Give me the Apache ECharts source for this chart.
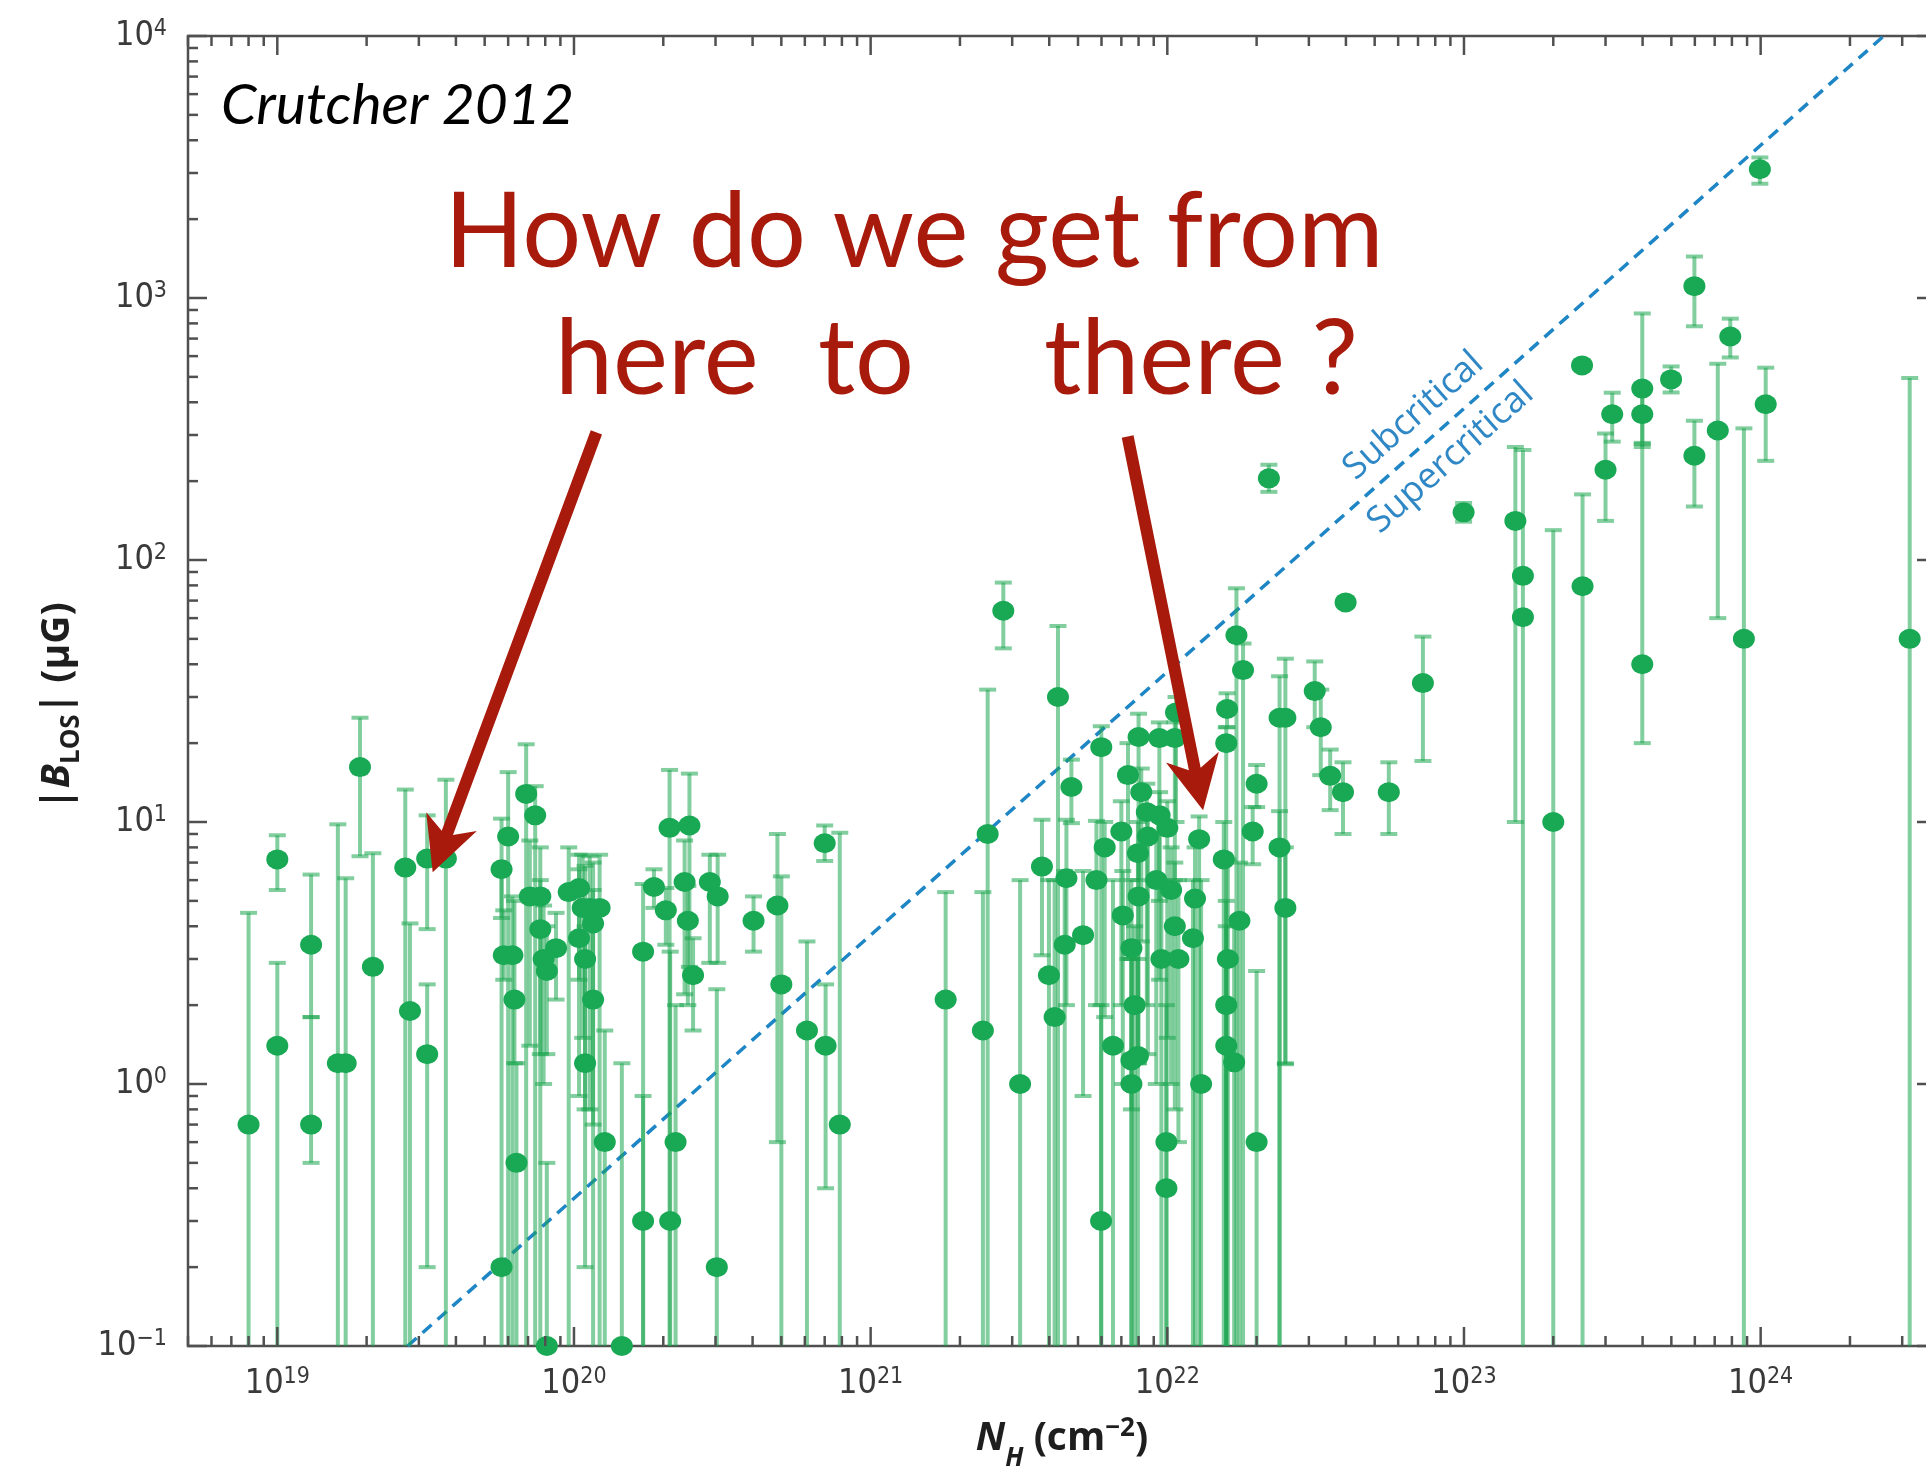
<!DOCTYPE html>
<html>
<head>
<meta charset="utf-8">
<title>Zeeman |B_LOS| versus N_H</title>
<script src="https://cdn.jsdelivr.net/npm/echarts/dist/echarts.min.js"></script>
<style>
  html, body { margin: 0; padding: 0; background: #ffffff; }
  #chart { width: 1926px; height: 1471px; }
</style>
</head>
<body>
<div id="chart"></div>
<script>
// Zeeman measurements: hydrogen column density N_H (cm^-2), line-of-sight field |B_LOS| (uG)
// and the ends of each error bar. A lower end of 0 means the bar runs off the bottom of the
// plot; an upper end of null means no error bar.
const nH = [
  8.0e18, 1.0e19, 1.0e19, 1.3e19, 1.3e19, 1.6e19, 1.7e19, 1.9e19, 2.1e19, 2.7e19,
  2.8e19, 3.2e19, 3.2e19, 3.7e19, 5.7e19, 6.0e19, 5.8e19, 6.2e19, 6.3e19, 6.4e19,
  5.7e19, 6.9e19, 7.4e19, 7.1e19, 7.7e19, 7.7e19, 8.7e19, 7.9e19, 8.1e19, 8.1e19,
  9.6e19, 1.04e20, 1.07e20, 1.13e20, 1.22e20, 1.04e20, 1.09e20, 1.16e20, 1.16e20, 1.09e20,
  1.27e20, 1.45e20, 1.71e20, 1.71e20, 1.86e20, 2.04e20, 2.1e20, 2.45e20, 2.36e20, 2.42e20,
  2.52e20, 2.2e20, 2.11e20, 2.87e20, 3.05e20, 3.03e20, 4.03e20, 4.85e20, 5.0e20, 6.1e20,
  7.0e20, 7.05e20, 7.87e20, 1.79e21, 2.39e21, 2.48e21, 2.8e21, 3.19e21, 3.78e21, 3.99e21,
  4.17e21, 4.28e21, 4.57e21, 4.51e21, 4.75e21, 5.2e21, 5.77e21, 5.99e21, 5.98e21, 6.15e21,
  6.56e21, 7.0e21, 7.37e21, 8.0e21, 8.17e21, 9.4e21, 1.06e22, 1.07e22, 8.53e21, 9.42e21,
  1.0e22, 8.6e21, 7.96e21, 7.08e21, 8.0e21, 9.18e21, 1.03e22, 7.57e21, 1.06e22, 9.55e21,
  1.09e22, 1.24e22, 1.22e22, 1.28e22, 7.76e21, 7.57e21, 7.96e21, 7.57e21, 9.93e21, 9.93e21,
  1.3e22, 1.59e22, 1.58e22, 1.71e22, 1.8e22, 1.55e22, 1.75e22, 1.6e22, 1.58e22, 1.58e22,
  1.68e22, 2.0e22, 1.94e22, 2.0e22, 2.39e22, 2.5e22, 2.39e22, 2.5e22, 2.2e22, 3.14e22,
  3.29e22, 3.54e22, 3.91e22, 3.99e22, 5.58e22, 7.27e22, 9.97e22, 1.49e23, 1.58e23, 1.58e23,
  2.0e23, 2.51e23, 2.5e23, 3.0e23, 3.16e23, 3.99e23, 3.99e23, 3.99e23, 4.99e23, 5.98e23,
  5.98e23, 7.17e23, 7.9e23, 8.78e23, 9.94e23, 1.04e24, 3.18e24
];
const bLos = [
  0.70, 7.2, 1.4, 3.4, 0.70, 1.2, 1.2, 16.2, 2.8, 6.7,
  1.9, 7.25, 1.3, 7.25, 6.6, 8.8, 3.1, 3.1, 2.1, 0.5,
  0.2, 12.8, 10.6, 5.2, 5.2, 3.9, 3.3, 3.0, 2.7, 0.1,
  5.4, 5.6, 4.7, 4.7, 4.7, 3.6, 3.0, 4.1, 2.1, 1.2,
  0.6, 0.1, 3.2, 0.3, 5.65, 4.6, 9.5, 9.7, 5.9, 4.2,
  2.6, 0.6, 0.3, 5.9, 5.2, 0.2, 4.2, 4.8, 2.4, 1.6,
  8.3, 1.4, 0.7, 2.1, 1.6, 9.0, 64, 1.0, 6.76, 2.6,
  1.8, 30, 6.1, 3.4, 13.6, 3.7, 6.0, 19.3, 0.3, 8.0,
  1.4, 9.2, 15.1, 21.1, 13.0, 20.9, 20.9, 26.2, 10.9, 10.6,
  9.5, 8.8, 7.6, 4.4, 5.2, 6.0, 5.5, 3.3, 4.0, 3.0,
  3.0, 5.1, 3.6, 8.6, 2.0, 1.23, 1.28, 1.0, 0.6, 0.4,
  1.0, 27, 20, 51.6, 38, 7.2, 4.2, 3.0, 2.0, 1.4,
  1.21, 14.0, 9.2, 0.6, 25, 25, 8.0, 4.7, 205, 31.6,
  23, 15.0, 13.0, 68.9, 13.0, 33.9, 152, 141, 87, 60.5,
  10, 79.4, 553, 221, 360, 451, 360, 40, 489, 1110,
  250, 312, 713, 50, 3100, 393, 50
];
const bLow = [
  0, 5.5, 0, 1.8, 0.5, 0, 0, 7.4, 0, 0,
  0, 3.9, 0.2, 0, 4.3, 0, 2.5, 0, 1.2, 0,
  0, 0, 0, 1.4, 1.3, 0, 2.1, 1.0, 1.3, 0,
  0, 2.5, 1.5, 0.8, 0, 0.9, 0.8, 0.7, 0, 0.2,
  0, 0, 0, 0, 4.7, 3.4, 0, 2.8, 2.2, 2.0,
  1.6, 0, 0, 2.9, 2.9, 0, 3.2, 0.6, 0, 0,
  7.1, 0.4, 0, 0, 0, 0, 46, 0, 3.1, 0,
  0, 0, 2.0, 0, 9.9, 0.9, 2.0, 0, 0, 1.8,
  0, 2, 3, 6, 3.5, 5, 6, 10, 2, 2.5,
  1.5, 1.3, 1.2, 1.0, 1.2, 1.0, 1.0, 0.8, 0.8, 0,
  0.6, 0, 0, 0, 0, 0, 0, 0, 0, 0,
  0, 23, 0, 0, 0, 0, 0, 0, 0, 0,
  0, 11.4, 6.9, 0, 0, 1.2, 0, 1.19, 182, 23,
  15.1, 11.1, 9.0, 0, 9.0, 17.1, 140, 10, 0, 0,
  0, 0, 0, 141, 283, 280, 270, 20, 436, 780,
  160, 60, 593, 0, 2730, 239, 0
];
const bHigh = [
  4.5, 8.9, 2.9, 6.3, 1.8, 9.8, 6.1, 25, 7.6, 13.3,
  4.1, 10.6, 2.4, 14.5, 10.3, 15.5, 4.6, 5.2, 5.0, 1.2,
  6.5, 19.8, 13.7, 8.5, 8.0, 6.0, 4.5, 4.8, 4.0, 0.5,
  8.0, 7.5, 7.5, 7.4, 7.5, 6.6, 6.8, 7.0, 5.5, 4.0,
  1.6, 1.2, 5.8, 0.9, 6.6, 5.6, 15.8, 15.3, 8.5, 5.7,
  3.6, 2.0, 3.2, 7.5, 7.5, 2.3, 5.2, 9.0, 6.2, 3.5,
  9.7, 2.4, 9.1, 5.4, 5.4, 32, 82, 6.0, 10.2, 6.0,
  6.0, 56, 10.2, 6.5, 17.3, 6.5, 10.1, 23.2, 2.0, 10,
  6, 12, 20, 25.9, 16, 24, 24, 30, 14, 13,
  12, 11, 10, 6.5, 8, 9, 8, 6, 7, 6,
  6, 8, 6, 10.5, 4, 3, 3, 3, 3, 2,
  6, 31, 23, 78, 48, 10, 7, 7.2, 5, 4,
  4, 16.5, 11.4, 2.7, 36, 42, 11, 8, 231, 41,
  32, 18.9, 16.9, null, 16.9, 51, 165, 270, 263, null,
  130, 178, null, 304, 435, 873, 450, 277, 548, 1440,
  340, 561, 834, 318, 3440, 542, 495
];

// Axis ranges and tick exponents
const X_MIN = 5e18, X_MAX = 3.9e24, Y_MIN = 0.1, Y_MAX = 1e4;
const xTickExponents = [19, 20, 21, 22, 23, 24];
const yTickExponents = [-1, 0, 1, 2, 3, 4];
const minorMultipliers = [2, 3, 4, 5, 6, 7, 8, 9];

// Critical mass-to-flux line (endpoints)
const criticalN = [2.75e19, 2.6e24];
const criticalB = [0.1, 1e4];

// "here" / "there" arrows: tail and tip in data coordinates
const arrowTailN = [1.19e20, 7.35e21];
const arrowTailB = [307, 296];
const arrowTipN = [3.34e19, 1.32e22];
const arrowTipB = [6.43, 11.1];

const RED = '#a81a0b';
const BLUE = '#1f86c6';
const TICK_COLOR = '#505050';
const TICK_FONT = '"Liberation Sans Narrow", "DejaVu Sans Condensed", "Liberation Sans", sans-serif';
const TITLE_FONT = '"Open Sans", "Noto Sans", sans-serif';

function tickList(exponents, lo, hi) {
  const out = [];
  const first = exponents[0] - 1;
  const last = exponents[exponents.length - 1];
  for (let e = first; e <= last; e++) {
    const base = Math.pow(10, e);
    if (exponents.indexOf(e) >= 0) out.push({ v: base, major: true });
    minorMultipliers.forEach(function (m) {
      const v = m * base;
      if (v >= lo && v <= hi) out.push({ v: v, major: false });
    });
  }
  return out;
}
const xTicks = tickList(xTickExponents, X_MIN, X_MAX);
const yTicks = tickList(yTickExponents, Y_MIN, Y_MAX);

function powerLabel(value) {
  const lg = Math.log10(value);
  const e = Math.round(lg);
  if (Math.abs(lg - e) > 1e-6) return '';
  const s = e < 0 ? '\u2212' + (-e) : String(e);
  return '{b|10}{e|' + s + '}';
}

const tickRich = {
  b: { fontFamily: TICK_FONT, fontSize: 34, color: '#3a3a3a', lineHeight: 36 },
  e: { fontFamily: TICK_FONT, fontSize: 23, color: '#3a3a3a', lineHeight: 20, verticalAlign: 'top' }
};

const barData = nH.map(function (n, i) {
  return [n, bLos[i], bLow[i], bHigh[i] == null ? 0 : bHigh[i]];
});
const pointData = nH.map(function (n, i) { return [n, bLos[i]]; });

const chart = echarts.init(document.getElementById('chart'), null, { renderer: 'canvas' });

const option = {
  animation: false,
  backgroundColor: '#ffffff',
  grid: {
    left: 188, top: 36, width: 1748, height: 1310,
    containLabel: false, outerBoundsMode: 'none',
    show: true, borderColor: '#4f4f4f', borderWidth: 2.5, backgroundColor: 'rgba(0,0,0,0)'
  },
  xAxis: {
    type: 'log', logBase: 10, min: X_MIN, max: X_MAX,
    axisLine: { show: false }, axisTick: { show: false }, splitLine: { show: false },
    axisLabel: { formatter: powerLabel, margin: 20, rich: tickRich, showMinLabel: false, showMaxLabel: false },
    name: '{n|N}{h|H}{t| (cm}{s|\u22122}{t|)}',
    nameLocation: 'middle', nameGap: 68,
    nameTextStyle: {
      rich: {
        n: { fontFamily: TITLE_FONT, fontSize: 39, fontWeight: 'bold', fontStyle: 'italic', color: '#1e1e1e', lineHeight: 50 },
        h: { fontFamily: TITLE_FONT, fontSize: 26, fontWeight: 'bold', fontStyle: 'italic', color: '#1e1e1e', lineHeight: 26, padding: [40, 0, 0, 0] },
        t: { fontFamily: TITLE_FONT, fontSize: 39, fontWeight: 'bold', color: '#1e1e1e', lineHeight: 50 },
        s: { fontFamily: TITLE_FONT, fontSize: 26, fontWeight: 'bold', color: '#1e1e1e', lineHeight: 26, padding: [0, 0, 20, 0] }
      }
    }
  },
  yAxis: {
    type: 'log', logBase: 10, min: Y_MIN, max: Y_MAX,
    axisLine: { show: false }, axisTick: { show: false }, splitLine: { show: false },
    axisLabel: { formatter: powerLabel, margin: 21, rich: tickRich },
    name: '{t||}{b|B}{s|LOS}{t|| (\u03bcG)}',
    nameLocation: 'middle', nameRotate: 90, nameGap: 105,
    nameTextStyle: {
      padding: [0, 30, 0, 0],
      rich: {
        t: { fontFamily: TITLE_FONT, fontSize: 39, fontWeight: 'bold', color: '#1e1e1e', lineHeight: 50 },
        b: { fontFamily: TITLE_FONT, fontSize: 39, fontWeight: 'bold', fontStyle: 'italic', color: '#1e1e1e', lineHeight: 50 },
        s: { fontFamily: TITLE_FONT, fontSize: 26, fontWeight: 'bold', color: '#1e1e1e', lineHeight: 26, padding: [28, 0, 0, 0] }
      }
    }
  },
  series: [
    {
      // critical mass-to-flux ratio
      type: 'line',
      data: [[criticalN[0], criticalB[0]], [criticalN[1], criticalB[1]]],
      showSymbol: false, silent: true, z: 2,
      lineStyle: { color: BLUE, width: 3.5, type: [12, 8] }
    },
    {
      // error bars
      type: 'custom',
      data: barData,
      encode: { x: 0, y: 1 },
      z: 3, silent: true,
      renderItem: function (params, api) {
        const n = api.value(0), lo = api.value(2), hi = api.value(3);
        if (!(hi > 0)) return null;
        const cs = params.coordSys;
        const top = api.coord([n, hi]);
        const bottomY = lo > 0 ? api.coord([n, lo])[1] : cs.y + cs.height;
        const style = { stroke: 'rgba(30,165,80,0.55)', lineWidth: 4 };
        const capHalf = 8.5;
        const kids = [
          { type: 'line', shape: { x1: top[0], y1: top[1], x2: top[0], y2: bottomY }, style: style },
          { type: 'line', shape: { x1: top[0] - capHalf, y1: top[1], x2: top[0] + capHalf, y2: top[1] }, style: style }
        ];
        if (lo > 0) {
          kids.push({ type: 'line', shape: { x1: top[0] - capHalf, y1: bottomY, x2: top[0] + capHalf, y2: bottomY }, style: style });
        }
        return { type: 'group', children: kids };
      }
    },
    {
      // measurements
      type: 'scatter',
      data: pointData,
      symbol: 'circle', symbolSize: [22, 20],
      itemStyle: { color: '#19a955', opacity: 1 },
      clip: false, z: 4, silent: true
    },
    {
      // inward-pointing frame ticks on all four sides
      type: 'custom',
      data: [[X_MIN, Y_MIN]],
      encode: { x: 0, y: 1 },
      z: 5, silent: true, clip: false,
      renderItem: function (params, api) {
        const cs = params.coordSys;
        const left = cs.x, right = cs.x + cs.width, top = cs.y, bottom = cs.y + cs.height;
        const style = { stroke: TICK_COLOR, lineWidth: 2.5 };
        const kids = [];
        xTicks.forEach(function (t) {
          const x = api.coord([t.v, Y_MIN])[0];
          const L = t.major ? 19 : 10;
          kids.push({ type: 'line', shape: { x1: x, y1: bottom, x2: x, y2: bottom - L }, style: style });
          kids.push({ type: 'line', shape: { x1: x, y1: top, x2: x, y2: top + L }, style: style });
        });
        yTicks.forEach(function (t) {
          const y = api.coord([X_MIN, t.v])[1];
          const L = t.major ? 19 : 10;
          kids.push({ type: 'line', shape: { x1: left, y1: y, x2: left + L, y2: y }, style: style });
          kids.push({ type: 'line', shape: { x1: right, y1: y, x2: right - L, y2: y }, style: style });
        });
        return { type: 'group', children: kids };
      }
    }
  ]
};

chart.setOption(option);

// ---- annotations ----
function toPx(n, b) { return chart.convertToPixel({ gridIndex: 0 }, [n, b]); }

function arrowPoints(tail, tip, shaftHalf, headLen, headHalf, notch) {
  const dx = tip[0] - tail[0], dy = tip[1] - tail[1];
  const len = Math.hypot(dx, dy);
  const ux = dx / len, uy = dy / len, px = -uy, py = ux;
  const base = [tip[0] - ux * headLen, tip[1] - uy * headLen];
  const neck = [tip[0] - ux * (headLen - notch), tip[1] - uy * (headLen - notch)];
  return [
    [tail[0] + px * shaftHalf, tail[1] + py * shaftHalf],
    [neck[0] + px * shaftHalf, neck[1] + py * shaftHalf],
    [base[0] + px * headHalf, base[1] + py * headHalf],
    [tip[0], tip[1]],
    [base[0] - px * headHalf, base[1] - py * headHalf],
    [neck[0] - px * shaftHalf, neck[1] - py * shaftHalf],
    [tail[0] - px * shaftHalf, tail[1] - py * shaftHalf]
  ];
}

function textEl(x, y, text, font, fill, align, rotation) {
  return {
    type: 'text', x: x, y: y, rotation: rotation || 0, z: 100,
    style: {
      text: text, font: font, fill: fill,
      align: align, textAlign: align,
      verticalAlign: 'middle', textVerticalAlign: 'middle'
    }
  };
}

const c0 = toPx(criticalN[0], criticalB[0]);
const c1 = toPx(criticalN[1], criticalB[1]);
const ang = Math.atan2(c0[1] - c1[1], c1[0] - c0[0]);
const f = 0.694;
const mid = [c0[0] + (c1[0] - c0[0]) * f, c0[1] + (c1[1] - c0[1]) * f];
const nx = -Math.sin(ang), ny = -Math.cos(ang);
const labelOffset = 28;

const elements = [
  textEl(221, 106, 'Crutcher 2012', 'italic 57px Lato', '#000000', 'left'),
  textEl(914, 233, 'How do we get from', '104px Lato', RED, 'center'),
  textEl(555, 360, 'here', '104px Lato', RED, 'left'),
  textEl(818, 360, 'to', '104px Lato', RED, 'left'),
  textEl(1044, 360, 'there ?', '104px Lato', RED, 'left'),
  textEl(mid[0] + nx * labelOffset, mid[1] + ny * labelOffset, 'Subcritical', '36px "Open Sans"', '#2f88c5', 'center', ang),
  textEl(mid[0] - nx * labelOffset, mid[1] - ny * labelOffset, 'Supercritical', '36px "Open Sans"', '#2f88c5', 'center', ang)
];

for (let i = 0; i < arrowTipN.length; i++) {
  const tail = toPx(arrowTailN[i], arrowTailB[i]);
  const tip = toPx(arrowTipN[i], arrowTipB[i]);
  elements.push({
    type: 'polygon', z: 100,
    shape: { points: arrowPoints(tail, tip, 6, 54, 27, 12) },
    style: { fill: RED }
  });
}

chart.setOption({ graphic: { elements: elements } });
</script>
</body>
</html>
